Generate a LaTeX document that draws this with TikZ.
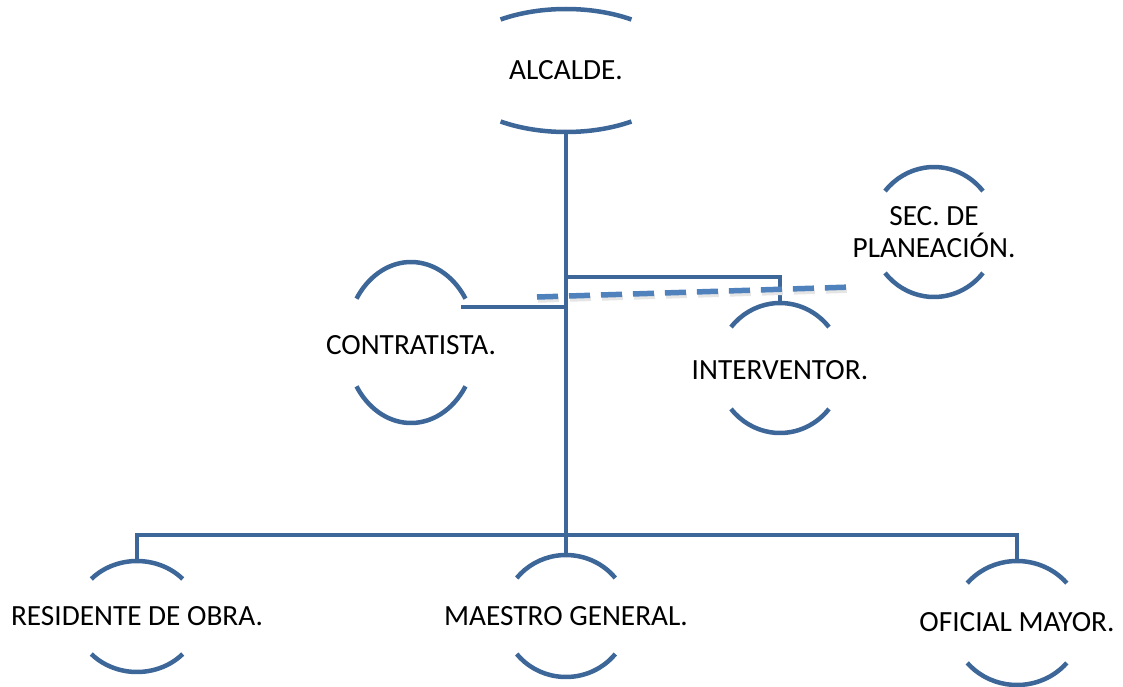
\documentclass[tikz,border=0pt]{standalone}
\usepackage{fontspec}
\setmainfont{Carlito}
\definecolor{azul}{RGB}{61,103,152}
\definecolor{azulclaro}{RGB}{79,129,189}
\tikzset{
  linea/.style={draw=azul, line width=4.5pt},
  texto/.style={font=\fontsize{29.3}{32}\selectfont, align=center, inner sep=0pt},
  punteada/.style={draw=azulclaro, line width=5.5pt, dash pattern=on 21pt off 11pt},
}
% #1 name, #2 centre, #3 x radius, #4 y radius, #5 angle of the arc ends
\newcommand{\burbuja}[5]{%
  \coordinate (#1-c) at (#2);
  \coordinate (#1-top) at ([shift={(0,#4)}]#1-c);
  \coordinate (#1-bot) at ([shift={(0,-#4)}]#1-c);
  \draw[linea] ([shift={(#5:#3 and #4)}]#1-c) arc[start angle=#5, end angle=180-#5, x radius=#3, y radius=#4];
  \draw[linea] ([shift={(-#5:#3 and #4)}]#1-c) arc[start angle=-#5, end angle=-180+#5, x radius=#3, y radius=#4];
}
\begin{document}
\begin{tikzpicture}[x=1pt, y=1pt]
        \useasboundingbox (0,0) rectangle (1123,-687);

        % bubbles
        \burbuja{alcalde}{566,-70.5}{117}{61.5}{56}
        \burbuja{contratista}{411,-342.5}{65}{80.5}{33}
        \burbuja{interventor}{780,-368}{63}{65}{39}
        \burbuja{planeacion}{934,-232}{63}{65}{39}
        \burbuja{residente}{137,-616.5}{62}{55.5}{42.5}
        \burbuja{maestro}{566,-616}{63}{61}{38.5}
        \burbuja{oficial}{1017,-623}{65}{62}{40}

        \node[texto] (alcalde) at (alcalde-c) {ALCALDE.};
        \node[texto] (contratista) at ([yshift=-3]contratista-c) {CONTRATISTA.};
        \node[texto] (interventor) at ([yshift=-2]interventor-c) {INTERVENTOR.};
        \node[texto] (planeacion) at (planeacion-c) {SEC. DE\\PLANEACIÓN.};
        \node[texto] (residente) at (residente-c) {RESIDENTE DE OBRA.};
        \node[texto] (maestro) at (maestro-c) {MAESTRO GENERAL.};
        \node[texto] (oficial) at ([yshift=1]oficial-c) {OFICIAL MAYOR.};

        % connectors
        \coordinate (bus) at (566,-535);
        \coordinate (ramal-int) at (566,-277);
        \coordinate (ramal-con) at (566,-307);
        \coordinate (contratista-der) at (461,-307);
        \draw[linea] (alcalde-bot) -- (maestro-top);
        \draw[linea] (residente-top) |- (bus) -| (oficial-top);
        \draw[linea] (ramal-int) -| (interventor-top);
        \draw[linea] (contratista-der) -- (ramal-con);

        % dashed link to planeacion
        \coordinate (plan-izq) at (537,-297);
        \coordinate (plan-der) at (852,-287);
        \draw[punteada, draw=black!10, transform canvas={shift={(1,-3)}}] (plan-izq) -- (plan-der);
        \draw[punteada] (plan-izq) -- (plan-der);
\end{tikzpicture}
\end{document}
